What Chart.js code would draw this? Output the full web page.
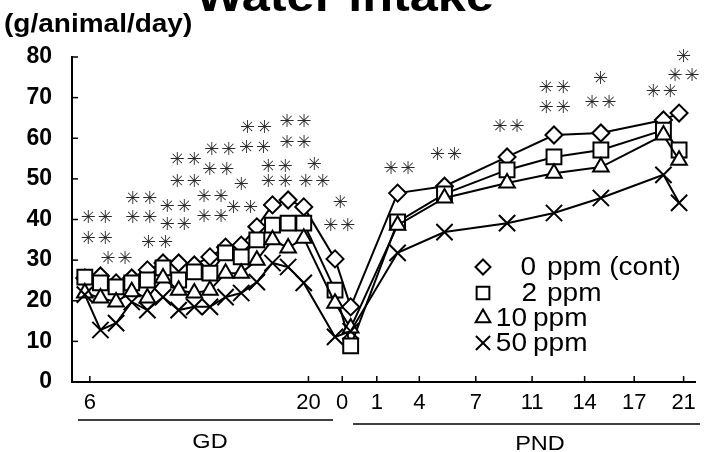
<!DOCTYPE html>
<html><head><meta charset="utf-8">
<script src="https://cdn.jsdelivr.net/npm/chart.js@4.4.0/dist/chart.umd.min.js"></script>
<style>html,body{margin:0;padding:0;background:#fff;}canvas{display:block;}</style>
</head><body>
<canvas id="c" width="709" height="452"></canvas>
<script>
// ---------- DATA ----------
const gdDays  = [6,7,8,9,10,11,12,13,14,15,16,17,18,19,20];
const pndDays = [0,1,4,7,11,14,17,21,22];
const PND0_ON_TIMELINE = 22;           // PND 0 follows GD 20 two days later on the shared time axis

const ppm0GD   = [25.6,26.1,24.4,25.6,27.6,29.3,29.3,28.8,30.8,33.2,33.7,38.2,43.6,44.8,43.1];
const ppm0PND  = [30.3,18.5,46.5,48.2,55.4,60.8,61.3,64.5,66.2];
const ppm2GD   = [25.8,24.4,23.4,24.4,25.1,28.1,25.1,27.1,26.8,31.8,30.8,35.0,38.6,39.1,39.1];
const ppm2PND  = [22.6,8.9,39.4,46.3,52.2,55.4,57.1,62.0,57.1];
const ppm10GD  = [21.9,20.7,19.7,22.2,20.7,25.6,22.6,21.9,22.6,26.8,26.8,30.0,35.0,33.0,35.4];
const ppm10PND = [19.4,13.3,38.6,45.3,49.0,51.4,52.9,60.8,54.6];
const ppm50GD  = [21.5,12.8,14.5,19.7,17.7,20.9,17.7,18.5,18.5,20.9,21.9,24.6,29.3,28.3,24.4];
const ppm50PND = [11.1,12.5,31.8,36.9,39.1,41.6,45.3,51.0,44.1];

const seriesDose  = ['0','2','10','50'];
const seriesUnits = ['ppm (cont)','ppm','ppm','ppm'];

const xTickLabels   = ['6','20','0','1','4','7','11','14','17','21'];
const xTickTimeline = [6.32,20.3,22.46,24.67,27.39,31.0,34.6,37.96,41.13,44.29];
const yTickValues   = [0,10,20,30,40,50,60,70,80];

// significance marks (timeline position, value, text)
const sigX    = [6.76,6.76,8.03,9.61,9.61,10.62,11.82,11.82,12.46,12.46,14.16,14.16,14.54,14.67,16.0,16.06,16.89,16.95,18.28,18.28,19.48,19.48,20.68,20.68,22.33,22.27,
                 26.13,29.1,33.09,36.06,36.06,38.97,38.97,42.9,44.29,44.29];
const sigY    = [40.4,35.0,30.3,45.0,40.4,34.2,43.1,38.6,54.6,49.2,45.5,40.6,52.2,57.1,48.5,42.8,57.6,62.5,52.9,49.2,63.8,58.8,53.4,49.2,44.1,38.2,
                 52.4,55.9,62.8,72.4,67.4,74.6,68.7,71.4,79.8,75.3];
const sigText = ['**','**','**','**','**','**','**','**','**','**','**','**','**','**','*','**','**','**','**','**','**','**','*','**','*','**',
                 '**','**','**','**','**','*','**','**','*','**'];

// ---------- BUILD ----------
function pts(gd, pnd){
  return gdDays.map((d,i)=>({x:d,y:gd[i]})).concat(pndDays.map((d,i)=>({x:d+PND0_ON_TIMELINE,y:pnd[i]})));
}
const styles = [
  {pointStyle:'rectRot', radius:8.5, order:4},
  {pointStyle:'rect', radius:10.5, order:3},
  {pointStyle:'triangle', radius:9, order:2},
  {pointStyle:'crossRot', radius:11.5, order:1}
];
const seriesData = [pts(ppm0GD,ppm0PND),pts(ppm2GD,ppm2PND),pts(ppm10GD,ppm10PND),pts(ppm50GD,ppm50PND)];
const datasets = seriesData.map((d,i)=>({
  label: seriesDose[i]+' '+seriesUnits[i],
  data: d,
  order: styles[i].order,
  borderColor:'#000', borderWidth:2,
  pointStyle: styles[i].pointStyle,
  pointRadius: styles[i].radius,
  pointBorderWidth: 2,
  pointBorderColor:'#000',
  pointBackgroundColor:'#fff',
  tension:0, clip:false, fill:false
}));

const FONT = '"Liberation Sans", Arial, sans-serif';
const SX = 1.12; // horizontal stretch of the scanned lettering

function sText(ctx, txt, x, y, align){
  ctx.save();
  ctx.translate(x, y);
  ctx.scale(SX, 1);
  ctx.textAlign = align || 'left';
  ctx.fillText(txt, 0, 0);
  ctx.restore();
}

const decor = {
  id:'decor',
  afterDraw(chart){
    const ctx = chart.ctx, xs = chart.scales.x, ys = chart.scales.y, ca = chart.chartArea;
    ctx.save();
    ctx.strokeStyle = '#000'; ctx.lineWidth = 1.5;
    // inward tick marks
    yTickValues.forEach(v=>{ const y = ys.getPixelForValue(v); ctx.beginPath(); ctx.moveTo(ca.left, y); ctx.lineTo(ca.left+6, y); ctx.stroke(); });
    xTickTimeline.forEach(v=>{ const x = xs.getPixelForValue(v); ctx.beginPath(); ctx.moveTo(x, ca.bottom); ctx.lineTo(x, ca.bottom-6); ctx.stroke(); });
    // significance marks
    ctx.fillStyle = '#2a2a2a';
    ctx.font = '18px "DejaVu Sans"';
    ctx.textAlign = 'center'; ctx.textBaseline = 'middle';
    sigX.forEach((sx,i)=>{
      const x = xs.getPixelForValue(sx), y = ys.getPixelForValue(sigY[i]);
      const n = sigText[i].length;
      for(let k=0;k<n;k++){
        const off = (k-(n-1)/2)*17;
        ctx.fillText('\u2733', x+off, y);
      }
    });
    // title (cut at top) and unit
    ctx.fillStyle = '#000';
    ctx.textBaseline = 'alphabetic';
    ctx.font = 'bold 45px ' + FONT;
    sText(ctx, 'Water intake', 345, 11, 'center');
    ctx.font = 'bold 25px ' + FONT;
    sText(ctx, '(g/animal/day)', 4, 32, 'left');
    // period labels
    ctx.font = '21px ' + FONT;
    sText(ctx, 'GD', 210, 448, 'center');
    sText(ctx, 'PND', 540, 450, 'center');
    ctx.lineWidth = 1.5;
    ctx.beginPath(); ctx.moveTo(78,420); ctx.lineTo(333,420); ctx.stroke();
    ctx.beginPath(); ctx.moveTo(353,424); ctx.lineTo(700,424); ctx.stroke();
    // legend
    const lx = 483, rows = [267,293,318,343];
    const lsizes = [7.5,9,8.5,10];
    const numRight = [536,537,527,527];
    const unitLeft = [547,547,533,533];
    ctx.font = '25px ' + FONT;
    ctx.textBaseline = 'middle';
    rows.forEach((ry,i)=>{
      ctx.fillStyle = '#fff'; ctx.strokeStyle = '#000'; ctx.lineWidth = 2;
      Chart.helpers.drawPoint(ctx,{pointStyle:styles[i].pointStyle, radius:lsizes[i], borderWidth:2, rotation:0}, lx, ry);
      ctx.fillStyle = '#000';
      sText(ctx, seriesDose[i], numRight[i], ry+1, 'right');
      sText(ctx, seriesUnits[i], unitLeft[i], ry+1, 'left');
    });
    ctx.restore();
  }
};

new Chart(document.getElementById('c'), {
  type:'line',
  data:{datasets},
  options:{
    responsive:false, animation:false, devicePixelRatio:1,
    layout:{padding:{top:57,right:7,left:0,bottom:0}},
    plugins:{legend:{display:false}, tooltip:{enabled:false}},
    scales:{
      x:{type:'linear', min:5.18, max:45.05,
         afterBuildTicks:s=>{ s.ticks = xTickTimeline.map(v=>({value:v})); },
         afterFit:s=>{ s.height = 70; },
         grid:{display:false, drawTicks:false},
         border:{display:true, color:'#000', width:2},
         ticks:{autoSkip:false, maxRotation:0, padding:8, color:'#000', font:{family:FONT, size:22},
                callback:(v,i)=>xTickLabels[i]}},
      y:{min:0, max:80,
         afterBuildTicks:s=>{ s.ticks = yTickValues.map(v=>({value:v})); },
         afterFit:s=>{ s.width = 72; },
         grid:{display:false, drawTicks:false},
         border:{display:true, color:'#000', width:2},
         ticks:{padding:20, color:'#000', font:{family:FONT, size:23, weight:'bold'}}}
    }
  },
  plugins:[decor]
});
</script>
</body></html>
